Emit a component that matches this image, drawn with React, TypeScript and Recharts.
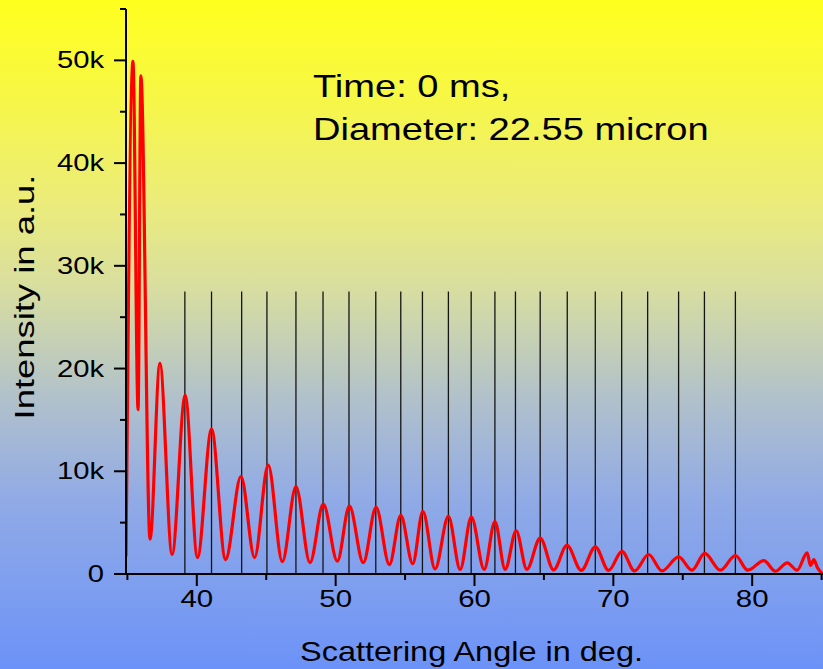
import React from 'react';
import { LineChart, Line, XAxis, YAxis, ReferenceLine } from 'recharts';

// scattering angle (deg) and intensity (a.u.), peaks and troughs
const angles = [
    34.9, 35.4, 35.77, 35.97, 36.63, 37.34, 38.22, 39.16, 40.05, 41.06,
    42.07, 43.18, 44.16, 45.14, 46.16, 47.14, 48.15, 49.11, 50.12, 50.99,
    51.99, 52.91, 53.87, 54.69, 55.55, 56.28, 57.16, 58.12, 58.97, 59.77,
    60.7, 61.47, 62.21, 63.0, 63.77, 64.73, 65.7, 66.66, 67.69, 68.7,
    69.66, 70.62, 71.53, 72.54, 73.51, 74.7, 75.67, 76.58, 77.71, 78.79,
    79.68, 80.84, 81.68, 82.52, 83.24, 83.96, 84.2, 84.44, 84.7, 85.1,
];
const intensity = [
    1700, 49900, 16000, 48500, 3400, 20500, 1900, 17400, 1600, 14100,
    1400, 9500, 1600, 10600, 1200, 8500, 1100, 6800, 1250, 6600,
    1100, 6500, 900, 5700, 1000, 6100, 500, 5600, 450, 5550,
    450, 5100, 450, 4200, 450, 3500, 400, 2800, 350, 2650,
    350, 2200, 300, 1900, 300, 1670, 370, 2000, 370, 1800,
    370, 1300, 270, 1090, 370, 2060, 830, 1400, 600, 0,
];

// marker lines drawn at the fringe maxima
const markerAngles = [
    39.14, 41.06, 43.23, 45.05, 47.14, 49.09, 50.96, 52.89, 54.69, 56.25, 58.12,
    59.76, 61.47, 62.95, 64.73, 66.68, 68.7, 70.6, 72.47, 74.7, 76.56, 78.79,
];
const markerTop = 27500;

const xTicks = [35, 40, 45, 50, 55, 60, 65, 70, 75, 80, 85];
const yTicks = [0, 5000, 10000, 15000, 20000, 25000, 30000, 35000, 40000, 45000, 50000, 55000];

const data = angles.map((a, i) => ({ angle: a, value: intensity[i] }));

const FONT = '"Liberation Sans", Arial, sans-serif';

// the original lettering is a bit wider than plain Arial
const XTick = (props: any) => {
    const { x, y, payload } = props;
    const major = payload.value % 10 === 0;
    return (
        <g>
            <line x1={x} y1={y} x2={x} y2={y + (major ? 12 : 6)} stroke="#000" strokeWidth={2} />
            {major && (
                <text transform={`translate(${x}, ${y + 33}) scale(1.28, 1)`} textAnchor="middle"
                    fontSize={23} fontFamily={FONT} fill="#000">
                    {payload.value}
                </text>
            )}
        </g>
    );
};

const YTick = (props: any) => {
    const { x, y, payload } = props;
    const major = payload.value % 10000 === 0;
    const label = payload.value === 0 ? '0' : `${payload.value / 1000}k`;
    return (
        <g>
            <line x1={x} y1={y} x2={x - (major ? 12 : 6)} y2={y} stroke="#000" strokeWidth={2} />
            {major && (
                <text transform={`translate(${x - 22}, ${y + 8}) scale(1.27, 1)`} textAnchor="end"
                    fontSize={23} fontFamily={FONT} fill="#000">
                    {label}
                </text>
            )}
        </g>
    );
};

const XTitle = (props: any) => {
    const { viewBox } = props;
    const cx = viewBox.x + viewBox.width / 2 - 3;
    return (
        <text transform={`translate(${cx}, ${viewBox.y + 87}) scale(1.16, 1)`} textAnchor="middle"
            fontSize={28} fontFamily={FONT} fill="#000">
            Scattering Angle in deg.
        </text>
    );
};

const YTitle = () => (
    <text transform="translate(34, 297) rotate(-90) scale(1.3, 1)" textAnchor="middle"
        fontSize={28} fontFamily={FONT} fill="#000">
        Intensity in a.u.
    </text>
);

export default function App() {
    return (
        <div style={{
            position: 'fixed', left: 0, top: 0, width: 823, height: 669,
            background: 'linear-gradient(to bottom, #ffff1e 0%, #f7f745 14%, #ecec7a 30%, #d8dea0 43%, #b0c0cc 60%, #90aae6 75%, #7296f5 96%, #6b92f8 100%)',
        }}>
            <LineChart width={823} height={669} data={data} margin={{ top: 9, right: 0, bottom: 0, left: 0 }}>
                <XAxis
                    dataKey="angle"
                    type="number"
                    domain={[34.9, 85.1]}
                    ticks={xTicks}
                    interval={0}
                    height={95}
                    tickSize={0}
                    tickMargin={0}
                    tickLine={false}
                    axisLine={{ stroke: '#000', strokeWidth: 2 }}
                    tick={<XTick />}
                    label={<XTitle />}
                    allowDataOverflow
                />
                <YAxis
                    type="number"
                    domain={[0, 55000]}
                    ticks={yTicks}
                    interval={0}
                    width={126}
                    tickSize={0}
                    tickMargin={0}
                    tickLine={false}
                    axisLine={{ stroke: '#000', strokeWidth: 2 }}
                    tick={<YTick />}
                    label={<YTitle />}
                    allowDataOverflow
                />
                {markerAngles.map((a) => (
                    <ReferenceLine
                        key={a}
                        segment={[{ x: a, y: 0 }, { x: a, y: markerTop }]}
                        stroke="#141414"
                        strokeWidth={1.3}
                    />
                ))}
                <Line
                    type="monotone"
                    dataKey="value"
                    stroke="#ff0000"
                    strokeWidth={3.2}
                    dot={false}
                    isAnimationActive={false}
                />
            </LineChart>
            <svg width={823} height={669} style={{ position: 'absolute', left: 0, top: 0, pointerEvents: 'none' }}>
                <text transform="translate(313, 97) scale(1.19, 1)" fontSize={32} fontFamily={FONT} fill="#000">Time: 0 ms,</text>
                <text transform="translate(313, 140) scale(1.19, 1)" fontSize={32} fontFamily={FONT} fill="#000">Diameter: 22.55 micron</text>
            </svg>
        </div>
    );
}
